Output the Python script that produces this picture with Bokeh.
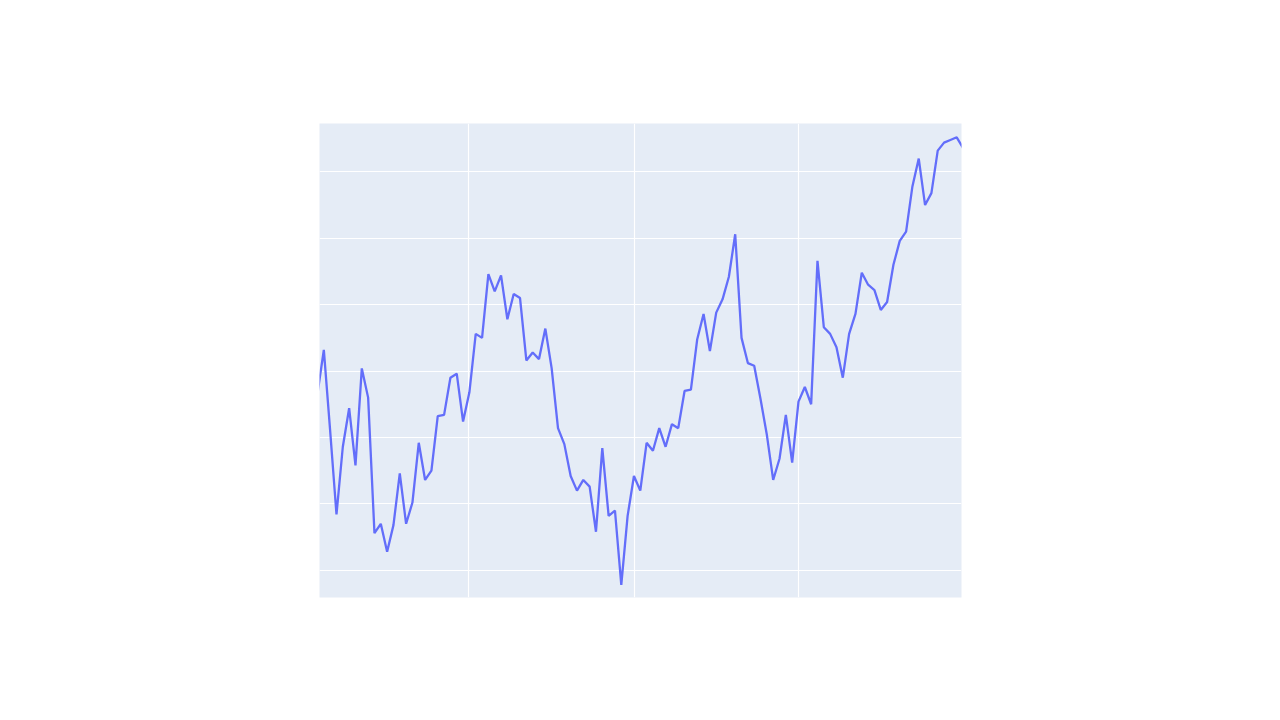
import pandas as pd
from bokeh.plotting import figure
from bokeh.models import FixedTicker, Range1d
from bokeh.embed import file_html
from bokeh.resources import INLINE

# Weekly normalised closing values (GOOG)
goog_2018 = [
    1.033, 1.066, 1.005, 0.942, 0.993, 1.022, 0.979, 1.052, 1.030, 0.928,
    0.935, 0.914, 0.934, 0.973, 0.935, 0.951, 0.996, 0.968, 0.975, 1.016,
    1.017, 1.045, 1.048, 1.012, 1.034, 1.078, 1.075, 1.123, 1.110, 1.122,
    1.089, 1.108, 1.105, 1.058, 1.064, 1.059, 1.082, 1.052, 1.007, 0.995,
    0.971, 0.960, 0.968, 0.963, 0.929, 0.992, 0.941, 0.945, 0.889, 0.941,
    0.971,
]
goog_2019 = [
    0.960, 0.996, 0.990, 1.007, 0.993, 1.010, 1.007, 1.035, 1.036, 1.074,
    1.093, 1.065, 1.094, 1.104, 1.121, 1.153, 1.075, 1.056, 1.054, 1.029,
    1.002, 0.968, 0.984, 1.017, 0.981, 1.027, 1.038, 1.025, 1.133, 1.083,
    1.078, 1.068, 1.045, 1.078, 1.093, 1.124, 1.115, 1.111, 1.096, 1.102,
    1.130, 1.148, 1.155, 1.189, 1.210, 1.175, 1.184, 1.216, 1.222, 1.224,
    1.226, 1.218,
]
first_week = "2018-01-15"

x_view = ["2018-01-17 05:00", "2019-12-28 07:00"]
y_view = [0.8795, 1.2364]
x_grid = ["2018-07-01", "2019-01-01", "2019-07-01"]
y_grid = [0.90, 0.95, 1.00, 1.05, 1.10, 1.15, 1.20]


def ms(s):
    return pd.Timestamp(s).value / 1e6


values = goog_2018 + goog_2019
dates = pd.date_range(first_week, periods=len(values), freq="7D")

p = figure(
    width=1260, height=700,
    x_axis_type="datetime",
    x_range=Range1d(ms(x_view[0]), ms(x_view[1])),
    y_range=Range1d(y_view[0], y_view[1]),
    output_backend="svg", toolbar_location=None,
    min_border_left=319, min_border_right=299,
    min_border_top=123, min_border_bottom=103,
)

p.xaxis.ticker = FixedTicker(ticks=[ms(d) for d in x_grid])
p.yaxis.ticker = FixedTicker(ticks=y_grid)
p.xgrid.ticker = FixedTicker(ticks=[ms(d) for d in x_grid])
p.ygrid.ticker = FixedTicker(ticks=y_grid)
p.axis.visible = False

p.background_fill_color = "#E5ECF6"
p.border_fill_color = "white"
p.outline_line_color = None
p.grid.grid_line_color = "white"
p.grid.grid_line_width = 1.2
p.grid.grid_line_alpha = 1.0

p.line(dates, values, line_color="#636EFA", line_width=2.3)

open("out.html", "w").write(file_html(p, INLINE))
